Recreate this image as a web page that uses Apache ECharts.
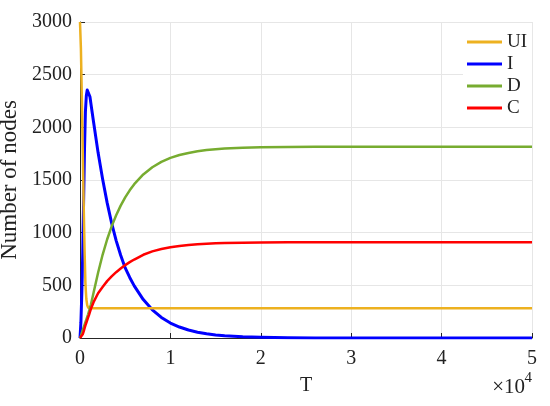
<!DOCTYPE html>
<html>
<head>
<meta charset="utf-8">
<script src="https://cdn.jsdelivr.net/npm/echarts@6/dist/echarts.min.js"></script>
<style>html,body{margin:0;padding:0;background:#fff;}#c{width:550px;height:406px;}</style>
</head>
<body>
<div id="c"></div>
<script>
var T = [0,100,200,300,400,500,600,700,800,900,1000,1100,1200,1300,1500,2000,2500,3000,3500,4000,4500,5000,5500,6000,7000,8000,9000,10000,11000,12000,13000,14000,15000,16000,18000,20000,23000,26000,30000,35000,40000,45000,50000];
var UI = [3000,2750,2300,1800,1300,850,520,370,310,290,284,283,282,282,282,282,282,282,282,282,282,282,282,282,282,282,282,282,282,282,282,282,282,282,282,282,282,282,282,282,282,282,282];
var I  = [0,150,420,800,1300,1800,2150,2300,2355,2365,2340,2290,2230,2170,2050,1760,1510,1285,1090,925,785,665,575,495,365,268,195,142,104,76,55,40,29,21,11,6,2,1,0,0,0,0,0];
var D  = [0,20,45,75,100,125,150,175,200,225,255,285,315,353,430,620,790,935,1060,1166,1257,1335,1402,1460,1553,1621,1672,1710,1737,1757,1773,1784,1792,1798,1806,1810,1813,1815,1816,1816,1816,1816,1816];
var C  = [0,3,15,35,60,90,120,145,170,195,220,248,275,297,340,425,485,540,585,625,660,692,720,745,790,822,845,862,874,883,890,895,899,902,905,907,909,910,910,910,910,910,910];
var seriesNames = ['UI','I','D','C'];
var seriesColors = ['#EDB120','#0000FF','#77AC30','#FF0000'];
var xTickLabels = ['0','1','2','3','4','5'];

var FONT = 'Liberation Serif';
function pairs(v){ return T.map(function(t,i){ return [t, v[i]]; }); }
var vals = [UI, I, D, C];
var series = seriesNames.map(function(n, k){
  return {
    name: n, type: 'line', data: pairs(vals[k]), showSymbol: false, symbol: 'none',
    smooth: false,
    lineStyle: { color: seriesColors[k], width: k === 1 ? 3 : 2.5, join: 'round' },
    itemStyle: { color: seriesColors[k] },
    z: 3 + (k === 1 ? 0 : 1)
  };
});

var chart = echarts.init(document.getElementById('c'), null, {renderer: 'canvas'});
chart.setOption({
  animation: false,
  backgroundColor: '#ffffff',
  textStyle: { fontFamily: FONT },
  grid: { left: 80, right: 18, top: 22, bottom: 68, containLabel: false, outerBoundsMode: 'none' },
  xAxis: {
    type: 'value', min: 0, max: 50000, interval: 10000,
    name: 'T', nameLocation: 'middle', nameGap: 38,
    nameTextStyle: { fontFamily: FONT, fontSize: 20, color: '#222' },
    axisLine: { show: true, onZero: false, lineStyle: { color: '#262626', width: 1 } },
    axisTick: { show: true, inside: true, length: 5, lineStyle: { color: '#262626' } },
    axisLabel: { fontFamily: FONT, fontSize: 20, color: '#222', margin: 11,
      formatter: function(v){ return xTickLabels[Math.round(v/10000)]; } },
    splitLine: { show: true, lineStyle: { color: '#e6e6e6', width: 1 } }
  },
  yAxis: {
    type: 'value', min: 0, max: 3000, interval: 500,
    name: 'Number of nodes', nameLocation: 'middle', nameGap: 49,
    nameTextStyle: { fontFamily: FONT, fontSize: 23, color: '#222' },
    axisLine: { show: true, onZero: false, lineStyle: { color: '#262626', width: 1 } },
    axisTick: { show: true, inside: true, length: 5, lineStyle: { color: '#262626' } },
    axisLabel: { fontFamily: FONT, fontSize: 20, color: '#222', margin: 8,
      formatter: function(v){ return String(v); } },
    splitLine: { show: true, lineStyle: { color: '#e6e6e6', width: 1 } }
  },
  legend: {
    orient: 'vertical', left: 463, top: 23,
    backgroundColor: '#ffffff', padding: [9, 5, 9, 4],
    itemWidth: 35, itemHeight: 3, itemGap: 2, icon: 'rect',
    textStyle: { fontFamily: FONT, fontSize: 19, color: '#222', lineHeight: 20 },
    data: seriesNames
  },
  graphic: [
    { type: 'text', right: 25, top: 377, style: { text: '×10', font: '21px ' + FONT, fill: '#222' } },
    { type: 'text', right: 18, top: 371, style: { text: '4', font: '15px ' + FONT, fill: '#222' } }
  ],
  series: series
});
</script>
</body>
</html>
